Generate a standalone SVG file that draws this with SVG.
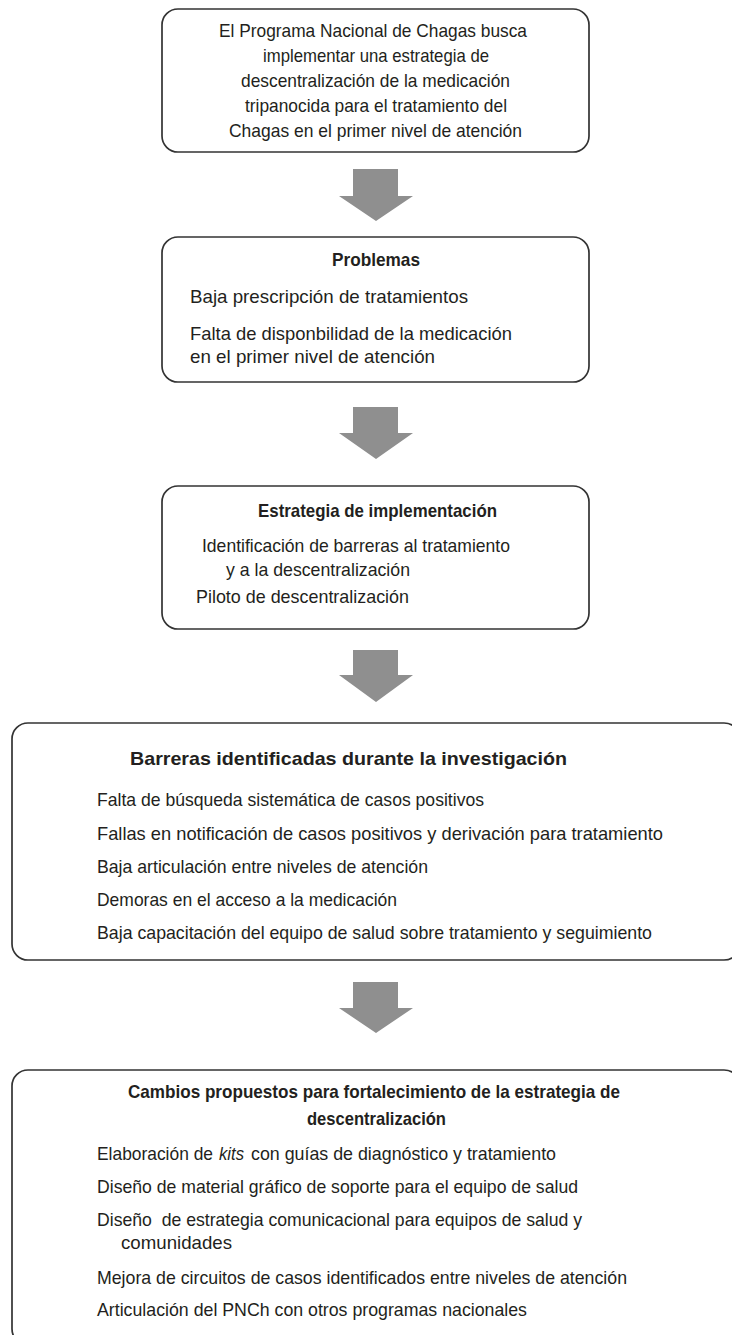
<svg xmlns="http://www.w3.org/2000/svg" width="732" height="1335" viewBox="0 0 732 1335">
<style>
.box{fill:#fff;stroke:#333;stroke-width:1.7}
.arrow{fill:#8f8f8f}
text{font-family:"Liberation Sans",Arial,sans-serif;font-size:18.5px;fill:#231f20;white-space:pre}
.b{font-weight:bold}
.i{font-style:italic}
</style>
<rect width="732" height="1335" fill="#fff"/>
<g id="connectors">
<polygon class="arrow" points="353,169 398,169 398,196 413,196 376,221 339,196 353,196"/>
<polygon class="arrow" points="353,407 398,407 398,433 413,433 376,459 339,433 353,433"/>
<polygon class="arrow" points="353,650 398,650 398,675 413,675 376,702 339,675 353,675"/>
<polygon class="arrow" points="353,982 398,982 398,1008 413,1008 376,1033 339,1008 353,1008"/>
</g>
<g id="node1">
<rect class="box" x="162" y="9" width="427" height="143" rx="16"/>
<text x="219" y="37" textLength="308" lengthAdjust="spacingAndGlyphs">El Programa Nacional de Chagas busca</text>
<text x="263" y="62" textLength="226" lengthAdjust="spacingAndGlyphs">implementar una estrategia de</text>
<text x="241" y="87" textLength="269" lengthAdjust="spacingAndGlyphs">descentralización de la medicación</text>
<text x="245" y="112" textLength="262" lengthAdjust="spacingAndGlyphs">tripanocida para el tratamiento del</text>
<text x="229" y="137" textLength="293" lengthAdjust="spacingAndGlyphs">Chagas en el primer nivel de atención</text>
</g>
<g id="node2">
<rect class="box" x="162" y="237" width="427" height="145" rx="16"/>
<text class="b" x="332" y="266" textLength="88" lengthAdjust="spacingAndGlyphs">Problemas</text>
<text x="190" y="303" textLength="278" lengthAdjust="spacingAndGlyphs">Baja prescripción de tratamientos</text>
<text x="190" y="340" textLength="322" lengthAdjust="spacingAndGlyphs">Falta de disponbilidad de la medicación</text>
<text x="190" y="363" textLength="245" lengthAdjust="spacingAndGlyphs">en el primer nivel de atención</text>
</g>
<g id="node3">
<rect class="box" x="162" y="486" width="427" height="143" rx="16"/>
<text class="b" x="258" y="517" textLength="239" lengthAdjust="spacingAndGlyphs">Estrategia de implementación</text>
<text x="202" y="552" textLength="308" lengthAdjust="spacingAndGlyphs">Identificación de barreras al tratamiento</text>
<text x="226" y="576" textLength="184" lengthAdjust="spacingAndGlyphs">y a la descentralización</text>
<text x="196" y="603" textLength="213" lengthAdjust="spacingAndGlyphs">Piloto de descentralización</text>
</g>
<g id="node4">
<rect class="box" x="12" y="723" width="728" height="237" rx="16"/>
<text class="b" x="130" y="765" textLength="437" lengthAdjust="spacingAndGlyphs">Barreras identificadas durante la investigación</text>
<text x="97" y="806" textLength="387" lengthAdjust="spacingAndGlyphs">Falta de búsqueda sistemática de casos positivos</text>
<text x="97" y="840" textLength="566" lengthAdjust="spacingAndGlyphs">Fallas en notificación de casos positivos y derivación para tratamiento</text>
<text x="97" y="873" textLength="331" lengthAdjust="spacingAndGlyphs">Baja articulación entre niveles de atención</text>
<text x="97" y="906" textLength="300" lengthAdjust="spacingAndGlyphs">Demoras en el acceso a la medicación</text>
<text x="97" y="939" textLength="555" lengthAdjust="spacingAndGlyphs">Baja capacitación del equipo de salud sobre tratamiento y seguimiento</text>
</g>
<g id="node5">
<rect class="box" x="12" y="1070" width="728" height="275" rx="16"/>
<text class="b" x="128" y="1098" textLength="492" lengthAdjust="spacingAndGlyphs">Cambios propuestos para fortalecimiento de la estrategia de</text>
<text class="b" x="307" y="1125" textLength="139" lengthAdjust="spacingAndGlyphs">descentralización</text>
<text x="97" y="1160" textLength="116" lengthAdjust="spacingAndGlyphs">Elaboración de</text>
<text class="i" x="219" y="1160" textLength="25" lengthAdjust="spacingAndGlyphs">kits</text>
<text x="251" y="1160" textLength="305" lengthAdjust="spacingAndGlyphs">con guías de diagnóstico y tratamiento</text>
<text x="97" y="1193" textLength="481" lengthAdjust="spacingAndGlyphs">Diseño de material gráfico de soporte para el equipo de salud</text>
<text x="97" y="1226" textLength="485" lengthAdjust="spacingAndGlyphs">Diseño  de estrategia comunicacional para equipos de salud y</text>
<text x="121" y="1249" textLength="111" lengthAdjust="spacingAndGlyphs">comunidades</text>
<text x="97" y="1284" textLength="530" lengthAdjust="spacingAndGlyphs">Mejora de circuitos de casos identificados entre niveles de atención</text>
<text x="97" y="1316" textLength="430" lengthAdjust="spacingAndGlyphs">Articulación del PNCh con otros programas nacionales</text>
</g>
</svg>
